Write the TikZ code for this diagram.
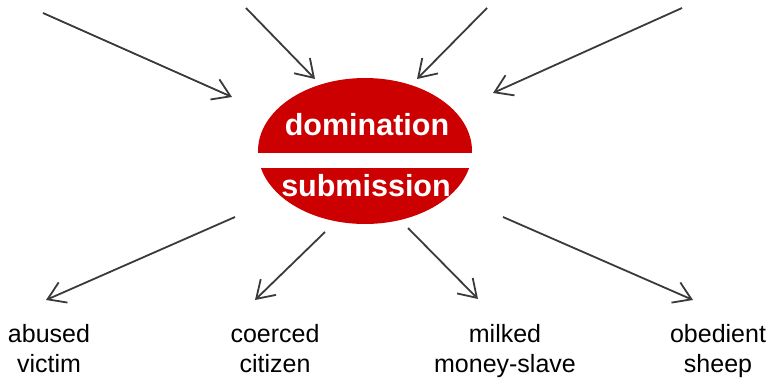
\documentclass[tikz,border=0pt]{standalone}
\usepackage{fontspec}
\setmainfont{Liberation Sans}
\usetikzlibrary{arrows.meta,shapes.geometric}
\definecolor{hubred}{HTML}{CC0000}
\definecolor{arrowgray}{HTML}{3A3A3A}
\tikzset{
  hubshape/.style={ellipse, fill=hubred, draw=none, minimum width=214pt, minimum height=146pt, inner sep=0pt},
  hubtext/.style={text=white, font=\fontsize{30.5}{34}\selectfont\bfseries, anchor=base, inner sep=0pt},
  label/.style={align=center, font=\fontsize{25}{30}\selectfont, anchor=base, inner sep=0pt, text=black},
  flow/.style={draw=arrowgray, line width=1.8pt, -{Straight Barb[length=17pt,width=22pt,line width=1.8pt]}}
}
\begin{document}
\begin{tikzpicture}[x=1pt,y=-1pt]
\useasboundingbox (0,0) rectangle (770,380);
% hub
\node[hubshape] (hub) at (365,151) {};
\fill[white] (250,152.5) rectangle (480,168);
\node[hubtext] (dom) at (367,135) {domination};
\node[hubtext] (sub) at (366,196) {submission};
% top sources and targets
\coordinate (s1) at (43,13);   \coordinate (t1) at (232,97);
\coordinate (s2) at (246,8);   \coordinate (t2) at (315,79);
\coordinate (s3) at (487,8);   \coordinate (t3) at (417,79);
\coordinate (s4) at (682,8);   \coordinate (t4) at (493,93);
% bottom sources and targets
\coordinate (b1) at (235,217); \coordinate (e1) at (46,300);
\coordinate (b2) at (325,232); \coordinate (e2) at (255,300);
\coordinate (b3) at (408,228); \coordinate (e3) at (478,299);
\coordinate (b4) at (503,217); \coordinate (e4) at (693,300);
\foreach \a/\b in {s1/t1,s2/t2,s3/t3,s4/t4,b1/e1,b2/e2,b3/e3,b4/e4}
  \draw[flow] (\a) -- (\b);
% labels (anchor at baseline of the second line)
\node[label] (l1) at (49,372) {abused\\victim};
\node[label] (l2) at (275,372) {coerced\\citizen};
\node[label] (l3) at (505,372) {milked\\money-slave};
\node[label] (l4) at (718,372) {obedient\\sheep};
\end{tikzpicture}
\end{document}
